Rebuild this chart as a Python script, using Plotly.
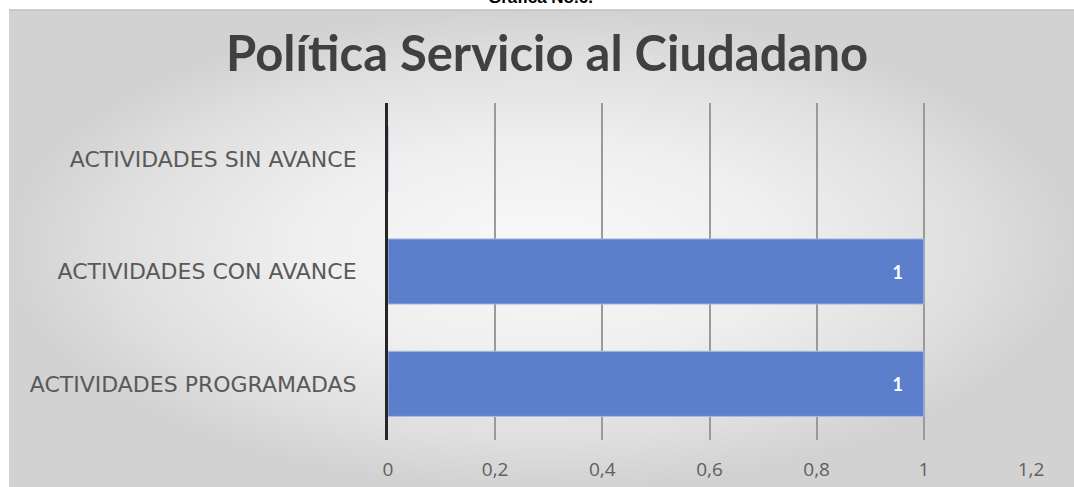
import plotly.graph_objects as go

categorias = ["ACTIVIDADES PROGRAMADAS", "ACTIVIDADES CON AVANCE", "ACTIVIDADES SIN AVANCE"]
valores = [1, 1, 0]
ticks_x = [0, 0.2, 0.4, 0.6, 0.8, 1, 1.2]
ticks_txt = ["0", "0,2", "0,4", "0,6", "0,8", "1", "1,2"]

W, H = 1074, 487

fig = go.Figure()

# fondo gris con degradado (subplot xy ocupa toda la hoja)
fig.add_trace(go.Scatter(
    x=[9, W, W, 9, 9], y=[0, 0, H - 10, H - 10, 0],
    mode="lines", line=dict(width=0), fill="toself",
    fillgradient=dict(type="radial",
                      colorscale=[[0, "#f9f9f9"], [0.45, "#efefef"], [0.8, "#dfdfdf"], [1, "#d2d2d2"]]),
    hoverinfo="skip", showlegend=False, xaxis="x", yaxis="y"))

# barras
sp = "\u2002\u2002"
fig.add_trace(go.Bar(
    y=categorias, x=valores, orientation="h",
    marker=dict(color="#5b7fca", line=dict(color="#a9bce4", width=1)),
    texttemplate=sp + "%{x}" + sp, textposition="auto",
    insidetextanchor="end",
    insidetextfont=dict(color="white", size=18, family="Lato", weight="bold"),
    outsidetextfont=dict(color="white", size=18, family="Lato", weight="bold"),
    cliponaxis=False,
    showlegend=False, xaxis="x2", yaxis="y2"))

fig.update_layout(
    width=W, height=H,
    margin=dict(l=0, r=0, t=0, b=0),
    paper_bgcolor="white", plot_bgcolor="rgba(0,0,0,0)",
    bargap=0.42,
    font=dict(family="Lato", color="#595959"),
    xaxis=dict(domain=[0, 1], range=[0, W], visible=False, fixedrange=True, automargin=False),
    yaxis=dict(domain=[0, 1], range=[0, H], visible=False, fixedrange=True, automargin=False),
    xaxis2=dict(domain=[388 / W, 1031 / W], range=[0, 1.2], anchor="y2",
                tickvals=ticks_x, ticktext=ticks_txt,
                showgrid=True, gridcolor="#9a9a9a", gridwidth=2,
                zeroline=False, showline=False, automargin=False,
                ticklabelstandoff=16,
                tickfont=dict(size=19, color="#606060", family="Open Sans")),
    yaxis2=dict(domain=[(H - 440) / H, (H - 103) / H], anchor="x2",
                showgrid=False, showline=True, linecolor="#262626", linewidth=3,
                automargin=False, ticklabelstandoff=24,
                tickfont=dict(size=22, color="#595959", family="DejaVu Sans")),
    shapes=[dict(type="line", xref="paper", yref="paper",
                 x0=9 / W, x1=1, y0=(H - 10) / H, y1=(H - 10) / H,
                 line=dict(color="#c0c0c0", width=1.5))],
    annotations=[
        dict(text="<b>Política Servicio al Ciudadano</b>", xref="paper", yref="paper",
             x=547 / W, y=(H - 52) / H, xanchor="center", yanchor="middle",
             showarrow=False, font=dict(size=49, color="#404040", family="Lato")),
        dict(text="<b>Gráfica No.6.</b>", xref="paper", yref="paper",
             x=540 / W, y=1, xanchor="center", yanchor="bottom", yshift=-9,
             showarrow=False, font=dict(size=17, color="black", family="Liberation Sans")),
    ],
)

fig.write_html("out.html", config={"displayModeBar": False},
               post_script="document.body.style.margin='0';")
